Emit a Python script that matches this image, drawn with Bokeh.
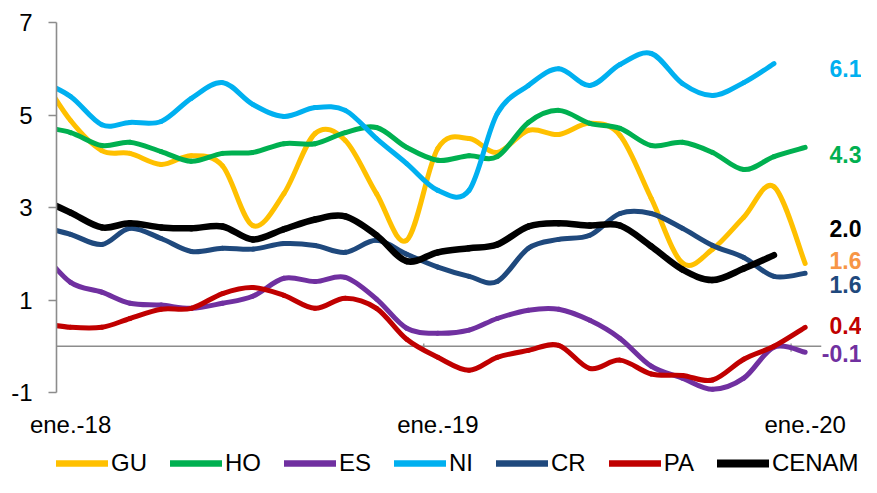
import numpy as np
import pandas as pd
from bokeh.plotting import figure
from bokeh.layouts import column
from bokeh.models import Range1d, FixedTicker, Legend, LegendItem, ColumnDataSource
from bokeh.embed import file_html
from bokeh.resources import INLINE
from bokeh.core.properties import value

# ---------------- data (monthly, mid-month; first point Dec 2017) ----------------
months = [str(d.date()) for d in pd.date_range("2017-12-01", periods=26, freq="MS") + pd.Timedelta(days=14)]

GU = [5.9, 4.88, 4.23, 4.17, 3.93, 4.12, 3.9, 2.61, 3.3, 4.6, 4.45, 3.3, 2.29,
      4.28, 4.49, 4.19, 4.67, 4.58, 4.82, 4.56, 3.2, 1.8, 2.1, 2.79, 3.45, 1.79]
HO = [4.75, 4.62, 4.34, 4.41, 4.21, 4.0, 4.17, 4.19, 4.38, 4.38, 4.62, 4.73, 4.3,
      4.02, 4.12, 4.1, 4.84, 5.1, 4.82, 4.71, 4.34, 4.41, 4.19, 3.82, 4.1, 4.3]
ES = [2.1, 1.38, 1.17, 0.93, 0.89, 0.82, 0.93, 1.08, 1.47, 1.4, 1.49, 1.02, 0.39,
      0.28, 0.35, 0.6, 0.78, 0.8, 0.56, 0.17, -0.43, -0.69, -0.93, -0.69, -0.02, -0.13]
NI = [5.75, 5.4, 4.79, 4.84, 4.86, 5.36, 5.7, 5.23, 4.97, 5.16, 5.1, 4.49, 3.95,
      3.37, 3.37, 5.03, 5.64, 6.0, 5.64, 6.09, 6.33, 5.68, 5.42, 5.7, 6.11]
CR = [2.6, 2.42, 2.2, 2.55, 2.33, 2.05, 2.12, 2.1, 2.22, 2.18, 2.03, 2.29, 1.99,
      1.71, 1.51, 1.4, 2.12, 2.31, 2.4, 2.87, 2.87, 2.55, 2.18, 1.92, 1.51, 1.58]
PA = [0.5, 0.41, 0.41, 0.6, 0.8, 0.82, 1.14, 1.27, 1.1, 0.82, 1.04, 0.82, 0.15,
      -0.24, -0.52, -0.24, -0.09, 0.02, -0.48, -0.3, -0.6, -0.63, -0.73, -0.28, 0.0, 0.41]
CENAM = [3.2, 2.89, 2.57, 2.66, 2.57, 2.55, 2.59, 2.31, 2.53, 2.74, 2.81, 2.4, 1.84,
         2.03, 2.12, 2.2, 2.59, 2.66, 2.61, 2.61, 2.16, 1.66, 1.43, 1.68, 1.97]

series_names = ["GU", "HO", "ES", "NI", "CR", "PA", "CENAM"]
series_values = [GU, HO, ES, NI, CR, PA, CENAM]
series_colors = ["#FFC000", "#00B050", "#7030A0", "#00B0F0", "#1F497D", "#C00000", "#000000"]
series_widths = [5, 5, 5, 5, 5, 5, 6.5]

tick_labels = ["ene.-18", "ene.-19", "ene.-20"]
tick_dates = ["2018-01-15", "2019-01-15", "2020-01-15"]
year_tick_dates = ["2019-01-01", "2020-01-01"]
axis_start, axis_end, view_end = "2018-01-01", "2020-01-31", "2020-03-11"

y_ticks = [-1, 1, 3, 5, 7]
y_tick_labels = ["-1", "1", "3", "5", "7"]

end_labels = ["6.1", "4.3", "2.0", "1.6", "1.6", "0.4", "-0.1"]
end_label_y = [6.0, 4.15, 2.55, 1.86, 1.34, 0.45, -0.15]
end_label_colors = ["#00B0F0", "#00B050", "#000000", "#F79646", "#1F497D", "#C00000", "#7030A0"]

# ---------------- helpers ----------------
base = pd.Timestamp(axis_start)
def day(d):
    return float((pd.Timestamp(d) - base).days)

xs_all = np.array([day(m) for m in months])

def smooth_segments(xv, yv):
    x = np.asarray(xv, float); y = np.asarray(yv, float)
    n = len(x)
    xp = np.concatenate([[x[0]], x, [x[-1]]]); yp = np.concatenate([[y[0]], y, [y[-1]]])
    seg = dict(x0=[], y0=[], x1=[], y1=[], cx0=[], cy0=[], cx1=[], cy1=[])
    for i in range(n - 1):
        j = i + 1
        seg["x0"].append(x[i]); seg["y0"].append(y[i])
        seg["x1"].append(x[i + 1]); seg["y1"].append(y[i + 1])
        seg["cx0"].append(x[i] + (xp[j + 1] - xp[j - 1]) / 6.0)
        seg["cy0"].append(y[i] + (yp[j + 1] - yp[j - 1]) / 6.0)
        seg["cx1"].append(x[i + 1] - (xp[j + 2] - xp[j]) / 6.0)
        seg["cy1"].append(y[i + 1] - (yp[j + 2] - yp[j]) / 6.0)
    return seg

FONT = "Liberation Sans"

# ---------------- main chart ----------------
p = figure(width=861, height=441, output_backend="svg", toolbar_location=None,
           x_range=Range1d(0, day(view_end)), y_range=Range1d(-1, 7),
           min_border_left=56, min_border_right=0, min_border_top=22, min_border_bottom=49)
p.outline_line_color = None
p.grid.visible = False
p.background_fill_color = "white"

# zero line with year ticks
p.segment(x0=[day(axis_start)], y0=[0], x1=[day(axis_end)], y1=[0], line_color="#8C8C8C", line_width=1.6)
yt = [day(d) for d in year_tick_dates]
p.segment(x0=yt, y0=[0.06] * len(yt), x1=yt, y1=[-0.12] * len(yt), line_color="#8C8C8C", line_width=1.3)

for name, vals, col, w in zip(series_names, series_values, series_colors, series_widths):
    seg = smooth_segments(xs_all[:len(vals)], vals)
    p.bezier(x0="x0", y0="y0", x1="x1", y1="y1", cx0="cx0", cy0="cy0", cx1="cx1", cy1="cy1",
             source=ColumnDataSource(seg), line_color=col, line_width=w, line_cap="round")

# end labels
src = ColumnDataSource(dict(x=[day(view_end)] * len(end_labels), y=end_label_y,
                            t=end_labels, c=end_label_colors))
p.text(x="x", y="y", text="t", text_color="c", source=src, text_align="right",
       text_baseline="middle", text_font=value(FONT), text_font_size="23px",
       text_font_style="bold")

# axes
p.yaxis.ticker = FixedTicker(ticks=y_ticks)
p.yaxis.major_label_overrides = {t: s for t, s in zip(y_ticks, y_tick_labels)}
p.yaxis.axis_line_color = "#8C8C8C"
p.yaxis.axis_line_width = 1.6
p.yaxis.major_tick_line_color = "#8C8C8C"
p.yaxis.major_tick_line_width = 1.6
p.yaxis.major_tick_in = 0
p.yaxis.major_tick_out = 8
p.yaxis.minor_tick_line_color = None
p.yaxis.major_label_standoff = 16
p.yaxis.major_label_text_font = FONT
p.yaxis.major_label_text_font_size = "24px"
p.yaxis.major_label_text_color = "black"

xt = [day(d) for d in tick_dates]
p.xaxis.ticker = FixedTicker(ticks=xt)
p.xaxis.major_label_overrides = {int(t): lab for t, lab in zip(xt, tick_labels)}
p.xaxis.axis_line_color = None
p.xaxis.major_tick_line_color = None
p.xaxis.minor_tick_line_color = None
p.xaxis.major_tick_out = 0
p.xaxis.major_tick_in = 0
p.xaxis.major_label_standoff = 18
p.xaxis.major_label_text_font = FONT
p.xaxis.major_label_text_font_size = "24px"
p.xaxis.major_label_text_color = "black"

# ---------------- legend strip ----------------
q = figure(width=861, height=36, output_backend="svg", toolbar_location=None,
           x_range=Range1d(0, 1), y_range=Range1d(0, 1),
           min_border_left=0, min_border_right=0, min_border_top=0, min_border_bottom=0)
q.axis.visible = False
q.grid.visible = False
q.outline_line_color = None

legend_items = []
for name, col, w in zip(series_names, series_colors, series_widths):
    r = q.line(x=np.array([np.nan]), y=np.array([np.nan]), line_color=col,
               line_width=w + 1.5, line_cap="round")
    legend_items.append(LegendItem(label=name, renderers=[r]))

legend = Legend(items=legend_items, orientation="horizontal", location=(0, 0),
                glyph_width=52, glyph_height=24, label_height=24, label_standoff=3,
                spacing=23, padding=0, margin=0, border_line_color=None,
                background_fill_alpha=0, label_text_font=FONT, label_text_font_size="24px",
                label_text_color="black")
q.add_layout(legend)

layout = column(p, q, spacing=0)
open("out.html", "w").write(file_html(layout, INLINE))
